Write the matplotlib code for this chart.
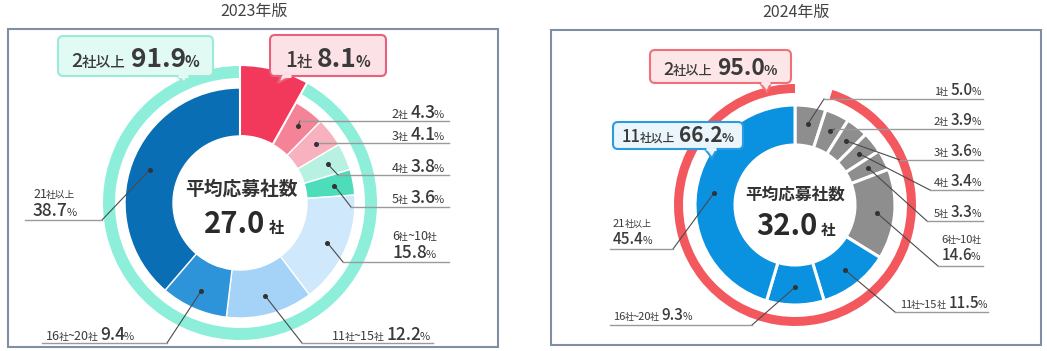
import matplotlib
matplotlib.use("Agg")
import matplotlib.pyplot as plt
from matplotlib.patches import FancyBboxPatch, Polygon, Rectangle
import numpy as np

plt.rcParams['font.family'] = ['Noto Sans CJK JP', 'DejaVu Sans']

# ---------------- data ----------------
categories = ["1社", "2社", "3社", "4社", "5社", "6社~10社", "11社~15社", "16社~20社", "21社以上"]
share_2023 = [8.1, 4.3, 4.1, 3.8, 3.6, 15.8, 12.2, 9.4, 38.7]
share_2024 = [5.0, 3.9, 3.6, 3.4, 3.3, 14.6, 11.5, 9.3, 45.4]
average_2023 = 27.0
average_2024 = 32.0
titles = ["2023年版", "2024年版"]
summary_2023 = [("2社以上", 91.9), ("1社", 8.1)]
summary_2024 = [("2社以上", 95.0), ("11社以上", 66.2)]

colors_2023 = ["#F2395B", "#F48397", "#F8B1BE", "#B8F1E2", "#4EDDBB",
               "#CFE8FB", "#A5D3F7", "#2D94D9", "#0A6EB4"]
GRAY, BLUE = "#8E8E8E", "#0A91E0"
colors_2024 = [GRAY] * 6 + [BLUE] * 3
MINT = "#8DEEDA"
RED_RING = "#F2585E"
TXT = "#3a3a3a"

W, H = 1047, 351
fig = plt.figure(figsize=(W / 100, H / 100), dpi=100)
ax = fig.add_axes([0, 0, 1, 1])
renderer = fig.canvas.get_renderer()


def rich(x, y, parts, ha="left", color=TXT, z=6):
    """parts: (text, size, weight, gap_after)"""
    arts, widths = [], []
    for s, size, weight, gap in parts:
        t = ax.text(0, y, s, fontsize=size, fontweight=weight, color=color,
                    va="baseline", ha="left", zorder=z)
        arts.append(t)
        widths.append(t.get_window_extent(renderer).width + gap)
    total = sum(widths)
    x0 = x if ha == "left" else (x - total if ha == "right" else x - total / 2)
    for t, w in zip(arts, widths):
        t.set_x(x0)
        x0 += w


def cat_parts(cat, big, small):
    parts = []
    buf, kind = "", None
    for ch in cat:
        k = "big" if (ch.isdigit() or ch == "~") else "small"
        if kind is not None and k != kind:
            parts.append((buf, big if kind == "big" else small, "normal", -1))
            buf = ""
        buf += ch
        kind = k
    parts.append((buf, big if kind == "big" else small, "normal", -1))
    return parts


def num_parts(val, big, small):
    return [(f"{val:.1f}", big, "medium", -1.5), ("%", small, "normal", 0)]


def mid_points(vals, cx, cy, r):
    cum = np.concatenate([[0], np.cumsum(vals)])
    tot = cum[-1]
    pts = []
    for i in range(len(vals)):
        th = np.deg2rad(-90 + 360 * (cum[i] + vals[i] / 2) / tot)
        pts.append((cx + r * np.cos(th), cy + r * np.sin(th)))
    return pts


def callout(x0, y0, x1, y1, face, edge, tri, parts, tx, ty):
    ax.add_patch(FancyBboxPatch((x0, y0), x1 - x0, y1 - y0,
                                boxstyle="round,pad=0,rounding_size=5",
                                fc=face, ec=edge, lw=1.5, zorder=4))
    ax.add_patch(Polygon(tri, closed=False, fc=face, ec=edge, lw=1.5, zorder=5,
                         joinstyle="miter"))
    ax.plot([tri[0][0] + 1.2, tri[-1][0] - 1.2], [y1, y1], color=face, lw=2.2,
            zorder=5, solid_capstyle="butt")
    rich(tx, ty, parts, ha="center")


def leader(dot, elbow, end_x):
    ax.plot([dot[0], elbow[0]], [dot[1], elbow[1]], color="#4a4a4a", lw=0.8, zorder=3)
    ax.plot([elbow[0], end_x], [elbow[1], elbow[1]], color="#9a9a9a", lw=1.0, zorder=3)
    ax.plot(dot[0], dot[1], "o", color="#333333", ms=2.6, zorder=4)


# ---------------- frames and titles ----------------
ax.add_patch(Rectangle((8, 29), 490, 318, fill=False, ec="#7f8ea3", lw=1.5, zorder=2))
ax.add_patch(Rectangle((551, 30), 490, 315, fill=False, ec="#7f8ea3", lw=1.5, zorder=2))
ax.text(254, 11, titles[0], fontsize=11.5, color="#444444", ha="center", va="center")
ax.text(796, 12, titles[1], fontsize=11.5, color="#444444", ha="center", va="center")

# ---------------- 2023 donut ----------------
cx1, cy1 = 240, 203
ring_vals = [summary_2023[1][1], summary_2023[0][1]]
w, _ = ax.pie(ring_vals, colors=["white", MINT], radius=137, center=(cx1, cy1),
              startangle=-90, counterclock=True, wedgeprops=dict(width=12, lw=0))
w[0].set_visible(False)
ax.pie(share_2023, colors=colors_2023, radius=115, center=(cx1, cy1),
       startangle=-90, counterclock=True,
       wedgeprops=dict(width=48, edgecolor="white", lw=1.0))
w, _ = ax.pie([share_2023[0], 100 - share_2023[0]], colors=[colors_2023[0], "white"],
              radius=138, center=(cx1, cy1), startangle=-90, counterclock=True,
              wedgeprops=dict(width=71, edgecolor="white", lw=1.5))
w[1].set_visible(False)

dots1 = mid_points(share_2023, cx1, cy1, 96)
spec_2023 = {
    1: ((300, 121), 449, (444, 118), "right", False),
    2: ((316, 143), 449, (444, 140), "right", False),
    3: ((338, 175), 449, (444, 172), "right", False),
    4: ((351, 207), 449, (444, 203), "right", False),
    5: ((343, 262), 449, (414, 240), "center", True),
    6: ((302, 343), 433, (430, 340), "right", False),
    7: ((167, 343), 42, (46, 340), "left", False),
    8: ((102, 220), 25, (33, 198), "left", True),
}
for i, (elbow, end_x, (tx, ty), ha, two) in spec_2023.items():
    leader(dots1[i], elbow, end_x)
    cp = cat_parts(categories[i], 9, 7)
    npart = num_parts(share_2023[i], 12.5, 8)
    if two:
        rich(tx, ty, cp, ha=ha)
        rich(tx, ty + 18, npart, ha=ha)
    else:
        cp[-1] = (cp[-1][0], cp[-1][1], cp[-1][2], 3)
        rich(tx, ty, cp + npart, ha=ha)

ax.text(241, 189, "平均応募社数", fontsize=13.5, fontweight="bold", color="#333333",
        ha="center", va="center", zorder=6)
rich(244, 233, [(f"{average_2023:.1f}", 21, "bold", 4), ("社", 11, "bold", 0)],
     ha="center", color="#2a2a2a")

callout(58, 36, 213, 76, "#E2FAF4", "#9BEBD8", [(177, 76), (184, 82), (189, 76)],
        [("2", 14, "medium", -1), ("社以上", 10.5, "medium", 5),
         (f"{summary_2023[0][1]:.1f}", 19, "bold", -1), ("%", 11, "bold", 0)], 135.5, 67)
callout(270, 35, 386, 76, "#FCE1E7", "#E8607A", [(281, 76), (278, 83), (292, 76)],
        [("1", 15, "medium", -1), ("社", 11, "medium", 5),
         (f"{summary_2023[1][1]:.1f}", 19, "bold", -1), ("%", 11, "bold", 0)], 328, 67)

# ---------------- 2024 donut ----------------
cx2, cy2 = 795, 205
w, _ = ax.pie([100 - summary_2024[0][1], summary_2024[0][1]], colors=["white", RED_RING],
              radius=121, center=(cx2, cy2), startangle=-90, counterclock=True,
              wedgeprops=dict(width=9, lw=0))
w[0].set_visible(False)
ax.pie(share_2024, colors=colors_2024, radius=100, center=(cx2, cy2),
       startangle=-90, counterclock=True,
       wedgeprops=dict(width=40, edgecolor="white", lw=2.2))

dots2 = mid_points(share_2024, cx2, cy2, 82)
spec_2024 = {
    0: ((824, 99), 983, (981, 95), "right", False),
    1: ((835, 129), 983, (981, 125), "right", False),
    2: ((900, 160), 983, (981, 156), "right", False),
    3: ((930, 190), 983, (981, 186), "right", False),
    4: ((927, 221), 983, (981, 217), "right", False),
    5: ((938, 266), 983, (980, 243), "right", True),
    6: ((895, 312), 988, (987, 308), "right", False),
    7: ((752, 325), 610, (613, 320), "left", False),
    8: ((673, 249), 610, (613, 227), "left", True),
}
for i, (elbow, end_x, (tx, ty), ha, two) in spec_2024.items():
    leader(dots2[i], elbow, end_x)
    cp = cat_parts(categories[i], 8, 6.5)
    npart = num_parts(share_2024[i], 11, 7.5)
    if two:
        rich(tx, ty, cp, ha=ha)
        rich(tx, ty + 17, npart, ha=ha)
    else:
        cp[-1] = (cp[-1][0], cp[-1][1], cp[-1][2], 3)
        rich(tx, ty, cp + npart, ha=ha)

ax.text(795, 195, "平均応募社数", fontsize=12, fontweight="bold", color="#333333",
        ha="center", va="center", zorder=6)
rich(796, 235, [(f"{average_2024:.1f}", 21, "bold", 3), ("社", 10.5, "bold", 0)],
     ha="center", color="#2a2a2a")

callout(650, 50, 791, 83, "#FDE6E7", "#F0707A", [(760, 83), (767, 92), (771, 83)],
        [("2", 13, "medium", -1), ("社以上", 9.5, "medium", 4),
         (f"{summary_2024[0][1]:.1f}", 16.5, "bold", -1), ("%", 10, "bold", 0)], 720.5, 75)
callout(613, 122, 743, 149, "#EAF5FC", "#2A9BE0", [(705, 149), (712, 158), (717, 149)],
        [("11", 12, "medium", -1), ("社以上", 8.5, "medium", 4),
         (f"{summary_2024[1][1]:.1f}", 15, "bold", -1), ("%", 9, "bold", 0)], 678, 142)

ax.set_xlim(0, W)
ax.set_ylim(H, 0)
ax.set_aspect("auto")
ax.axis("off")
fig.savefig("out.png", dpi=100, facecolor="white")
